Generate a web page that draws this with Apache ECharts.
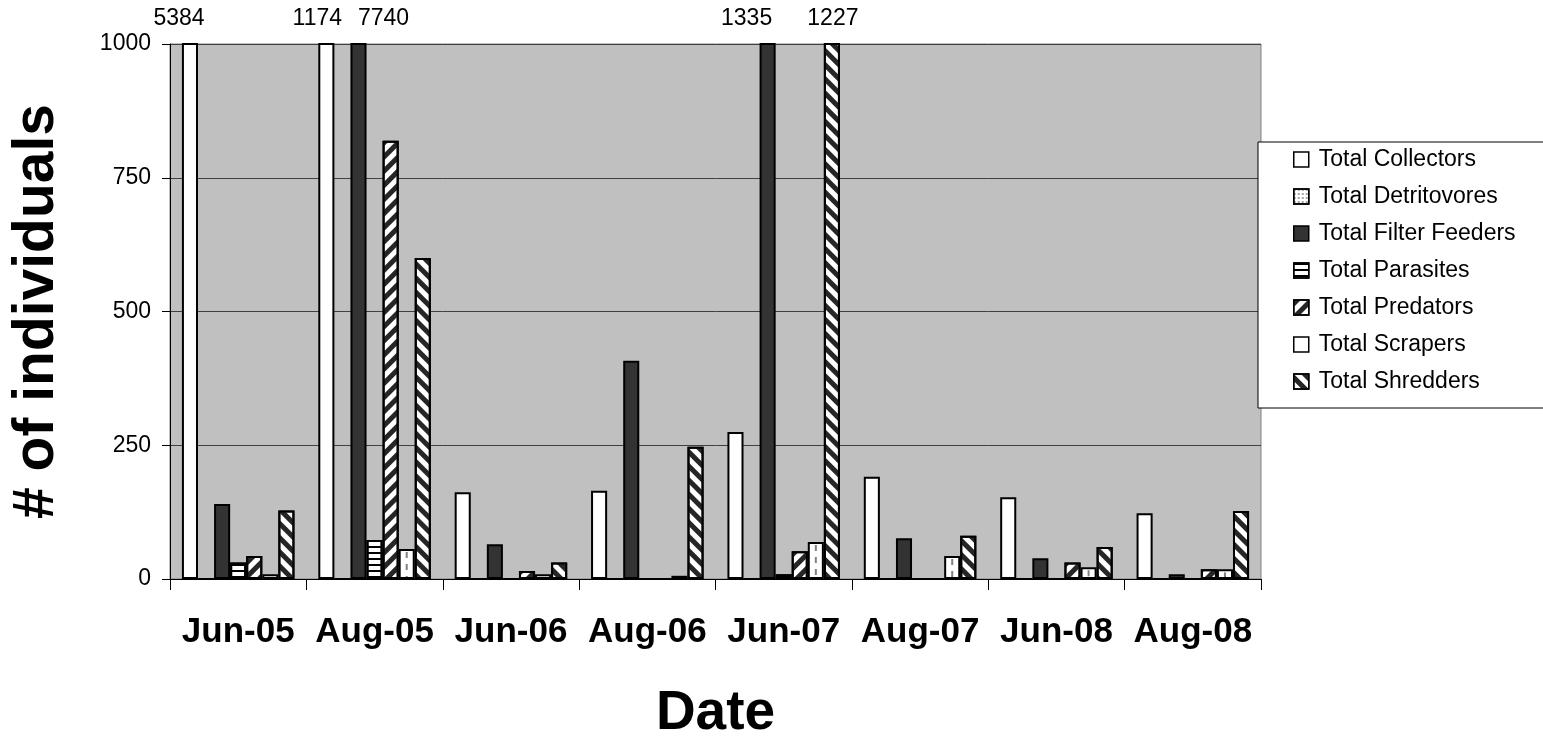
<!DOCTYPE html>
<html>
<head>
<meta charset="utf-8">
<title>Functional feeding groups</title>
<script src="https://cdn.jsdelivr.net/npm/echarts@6.0.0/dist/echarts.min.js"></script>
<style>
  html, body { margin: 0; padding: 0; background: #ffffff; }
  #chart { width: 1543px; height: 744px; }
</style>
</head>
<body>
<div id="chart"></div>
<script>
// Sampling dates
const categories = ['Jun-05', 'Aug-05', 'Jun-06', 'Aug-06', 'Jun-07', 'Aug-07', 'Jun-08', 'Aug-08'];

// Number of individuals per functional feeding group
const collectors    = [5384, 1174, 162, 165, 275, 191, 153, 123];
const detritovores  = [0, 0, 0, 0, 0, 0, 0, 0];
const filterFeeders = [140, 7740, 65, 408, 1335, 76, 39, 9];
const parasites     = [31, 73, 0, 0, 9, 0, 0, 0];
const predators     = [43, 819, 15, 0, 52, 0, 31, 18];
const scrapers      = [9, 56, 9, 6, 69, 43, 22, 18];
const shredders     = [128, 600, 31, 247, 1227, 81, 60, 127];

// Value axis ticks
const yTicks = [0, 250, 500, 750, 1000];
const yMax = yTicks[yTicks.length - 1];
const yStep = yTicks[1] - yTicks[0];

const FONT = '"Liberation Sans", Arial, sans-serif';
const CATEGORY_GAP = 0.175;
const GROUP_COUNT = 7;

// Horizontal nudge for the value labels of bars that run off the top of the axis
const overflowLabelShift = {
  'Total Collectors':     { 0: -11, 1: -9 },
  'Total Filter Feeders': { 1: 25, 4: -21 },
  'Total Shredders':      { 4: 1 }
};

const groups = [
  { name: 'Total Collectors', values: collectors, color: '#ffffff' },
  { name: 'Total Detritovores', values: detritovores, color: '#ffffff',
    decal: { symbol: 'rect', symbolSize: 0.7, color: '#555555', dashArrayX: [2, 2], dashArrayY: [2, 2] } },
  { name: 'Total Filter Feeders', values: filterFeeders, color: '#333333' },
  { name: 'Total Parasites', values: parasites, color: '#ffffff',
    decal: { symbol: 'rect', symbolSize: 1, color: '#000000', dashArrayX: [1, 0], dashArrayY: [2, 4] } },
  { name: 'Total Predators', values: predators, color: '#ffffff',
    decal: { symbol: 'rect', symbolSize: 1, color: '#262626', dashArrayX: [1, 0], dashArrayY: [4.5, 5], rotation: -Math.PI / 4 } },
  { name: 'Total Scrapers', values: scrapers, color: '#ffffff' },
  { name: 'Total Shredders', values: shredders, color: '#ffffff',
    decal: { symbol: 'rect', symbolSize: 1, color: '#262626', dashArrayX: [1, 0], dashArrayY: [4.5, 5], rotation: Math.PI / 4 } }
];

function barData(group) {
  const shifts = overflowLabelShift[group.name] || {};
  return group.values.map(function (v, i) {
    if (v <= yMax) return v;
    return {
      value: v,
      label: {
        show: true,
        position: 'top',
        distance: 13,
        offset: [shifts[i] || 0, 0],
        formatter: String(v),
        fontFamily: FONT,
        fontSize: 23,
        color: '#000000'
      }
    };
  });
}

const barSeries = groups.map(function (g) {
  const itemStyle = { color: g.color, borderColor: '#000000', borderWidth: 2 };
  if (g.decal) itemStyle.decal = g.decal;
  return {
    type: 'bar',
    name: g.name,
    data: barData(g),
    barGap: '0%',
    barCategoryGap: (CATEGORY_GAP * 100) + '%',
    itemStyle: itemStyle,
    emphasis: { disabled: true }
  };
});

// Dashed centre line inside each scrapers bar
const scraperIndex = groups.findIndex(function (g) { return g.name === 'Total Scrapers'; });
const scraperDashes = {
  type: 'custom',
  name: 'scraper-dash',
  silent: true,
  z: 3,
  data: scrapers.map(function (v, i) { return [i, v]; }),
  encode: { x: 0, y: 1 },
  renderItem: function (params, api) {
    const v = api.value(1);
    if (!v) return null;
    const top = api.coord([api.value(0), Math.min(v, yMax)]);
    const base = api.coord([api.value(0), 0]);
    const band = api.size([1, 0])[0];
    const used = band * (1 - CATEGORY_GAP);
    const w = used / GROUP_COUNT;
    const x = top[0] - used / 2 + w * (scraperIndex + 0.5);
    if (base[1] - top[1] < 6) return null;
    return {
      type: 'line',
      shape: { x1: x, y1: top[1] + 3, x2: x, y2: base[1] - 2 },
      style: { stroke: '#808080', lineWidth: 2, lineDash: [6, 6] }
    };
  }
};

const chart = echarts.init(document.getElementById('chart'), null, { renderer: 'canvas' });

chart.setOption({
  animation: false,
  textStyle: { fontFamily: FONT },
  grid: {
    left: 170, right: 282, top: 44, bottom: 165,
    show: true,
    backgroundColor: '#c0c0c0',
    borderColor: '#808080',
    borderWidth: 1,
    outerBoundsMode: 'none'
  },
  legend: {
    orient: 'vertical',
    left: 1258,
    top: 142,
    data: groups.map(function (g) { return g.name; }),
    icon: 'rect',
    itemWidth: 15,
    itemHeight: 15,
    itemGap: 14,
    padding: [6, 40, 15, 35],
    backgroundColor: '#ffffff',
    borderColor: '#000000',
    borderWidth: 1,
    borderRadius: 0,
    selectedMode: false,
    itemStyle: { borderWidth: 1.5 },
    textStyle: { fontFamily: FONT, fontSize: 23, color: '#000000', padding: [0, 0, 0, 5] }
  },
  xAxis: {
    type: 'category',
    data: categories,
    axisLine: { show: true, lineStyle: { color: '#000000', width: 1 } },
    axisTick: { show: true, length: 11, lineStyle: { color: '#000000' } },
    axisLabel: { fontFamily: FONT, fontSize: 35, fontWeight: 'bold', color: '#000000', margin: 36, interval: 0 },
    splitLine: { show: false },
    name: 'Date',
    nameLocation: 'middle',
    nameGap: 107,
    nameTextStyle: { fontFamily: FONT, fontSize: 55, fontWeight: 'bold', color: '#000000' }
  },
  yAxis: {
    type: 'value',
    min: yTicks[0],
    max: yMax,
    interval: yStep,
    axisLine: { show: true, lineStyle: { color: '#000000', width: 1 } },
    axisTick: { show: true, length: 8, lineStyle: { color: '#000000' } },
    axisLabel: {
      fontFamily: FONT, fontSize: 23, color: '#000000', margin: 19,
      formatter: function (v) { return String(v); }
    },
    splitLine: { show: true, lineStyle: { color: '#404040', width: 1 } },
    name: '# of individuals',
    nameLocation: 'middle',
    nameGap: 104,
    nameTextStyle: { fontFamily: FONT, fontSize: 57, fontWeight: 'bold', color: '#000000', padding: [0, 0, 0, 0] }
  },
  series: barSeries.concat([scraperDashes])
});
</script>
</body>
</html>
